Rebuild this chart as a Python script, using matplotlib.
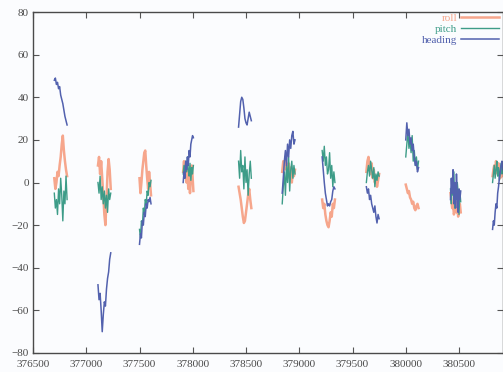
import numpy as np
import matplotlib
matplotlib.use("Agg")
import matplotlib.pyplot as plt

# start time and sample step of each pass
pass_start = [376700, 377110, 377500, 377910, 378430, 378840, 379215, 379630, 380000, 380420, 380815]
pass_dt = [10, 10, 9, 8, 10, 10, 10, 10, 10, 8, 8]

roll = [
    [2, -3, 0, 5, 3, 8, 12, 18, 22, 15, 10, 6, 3],
    [8, 12, 4, 10, 2, -6, -15, -20, -8, 5, 11, 6, -3],
    [2, -5, 0, 6, 10, 14, 15, 8, 2, -3, 5, 0, -6],
    [5, 10, 3, 8, 0, 6, -3, 4, -5, 2, 8, 3, -4],
    [-2, -5, -8, -12, -16, -19, -18, -14, -10, -6, -3, -8, -12],
    [5, 10, 6, 12, 8, 4, 9, 2, 7, 0, 5, 3, 6],
    [-8, -12, -10, -15, -18, -20, -21, -18, -14, -16, -10, -12, -8],
    [5, 10, 12, 8, 4, 9, 2, 6, 0, 3, -2, 1, 4],
    [-1, -3, -5, -4, -7, -8, -10, -9, -12, -13, -11, -10, -12],
    [-5, -8, -12, -10, -15, -13, -9, -14, -11, -16, -12, -10, -14],
    [3, 6, 8, 5, 10, 7, 4, 9, 6, 2, 5, 8, 3],
]
pitch = [
    [-5, -12, -8, -15, -3, -10, 2, -6, -18, -4, -10, 3, -8],
    [0, -5, 3, -8, -2, -10, -4, -12, -6, -14, -3, -8, -5],
    [-22, -26, -18, -20, -12, -15, -8, -10, -4, -6, 0, -2, 1],
    [4, 8, 2, 10, 5, 12, 6, 3, 9, 1, 7, 4, 8],
    [10, 2, 15, 5, 8, -3, 12, 0, 6, -6, 4, 10, 2],
    [-10, -2, 5, -6, 8, 0, 12, -4, 6, 10, 2, 8, 4],
    [15, 10, 17, 8, 12, 4, 6, 14, 2, 8, -2, 5, 0],
    [0, 5, 8, 3, 10, 6, 2, 7, -2, 4, 1, 5, 3],
    [12, 18, 24, 16, 20, 14, 22, 10, 15, 8, 12, 6, 10],
    [-3, -10, 2, -6, 5, -12, -2, -8, 0, -5, -15, -4, -9],
    [0, 4, 8, 2, 6, 10, 3, 7, 1, 5, 9, 4, 6],
]
heading = [
    [48, 49, 46, 47, 44, 45, 41, 39, 37, 34, 31, 29, 27],
    [-48, -55, -52, -60, -70, -62, -56, -58, -50, -45, -42, -36, -33],
    [-29, -24, -26, -18, -20, -14, -16, -10, -12, -8, -9, -7, -10],
    [0, 5, 2, 10, 6, 12, 8, 15, 12, 18, 20, 22, 21],
    [26, 32, 38, 40, 39, 35, 30, 28, 27, 30, 33, 31, 29],
    [-5, 2, 10, 15, 8, 18, 12, 20, 16, 22, 24, 18, 20],
    [12, 6, 0, -5, -8, -11, -10, -11, -9, -8, -4, -2, -3],
    [-2, -5, -3, -8, -6, -10, -12, -14, -11, -16, -19, -15, -17],
    [20, 28, 22, 25, 18, 21, 15, 18, 12, 8, 10, 5, 7],
    [-8, 2, -5, 6, -10, 0, -12, 4, -6, -14, -3, -8, -4],
    [-22, -18, -20, -14, -10, -12, -5, -2, 2, 5, 8, 10, 6],
]

x_ticks = [376500, 377000, 377500, 378000, 378500, 379000, 379500, 380000, 380500]
y_ticks = [-80, -60, -40, -20, 0, 20, 40, 60, 80]

colors = {"roll": "#f6a68c", "pitch": "#3d9c88", "heading": "#5261ae"}
widths = {"roll": 1.8, "pitch": 1.0, "heading": 1.1}
series = [("roll", roll), ("pitch", pitch), ("heading", heading)]

fig = plt.figure(figsize=(5.03, 3.72), dpi=100, facecolor="#fbfcfe")
ax = fig.add_axes([33 / 503, 1 - 353 / 372, 470 / 503, 341 / 372])
ax.set_facecolor("#fbfcfe")

for name, data in series:
    for k, vals in enumerate(data):
        t = pass_start[k] + pass_dt[k] * np.arange(len(vals))
        ax.plot(t, vals, color=colors[name], lw=widths[name],
                label=name if k == 0 else None)

ax.set_xlim(376500, 380913)
ax.set_ylim(-80, 80)
ax.set_xticks(x_ticks)
ax.set_yticks(y_ticks)
ax.tick_params(direction="in", length=4, width=0.8, color="#555555",
               top=True, right=True, labelsize=8, labelcolor="#4a4a4a")
ax.tick_params(axis="x", pad=5)
ax.tick_params(axis="y", pad=3)
for lab in ax.get_xticklabels() + ax.get_yticklabels():
    lab.set_fontfamily("Liberation Serif")
for sp in ax.spines.values():
    sp.set_color("#4a4a4a")
    sp.set_linewidth(1.0)

leg = ax.legend(loc="upper right", bbox_to_anchor=(1.0, 1.01), frameon=False,
                markerfirst=False, handlelength=3.4, labelspacing=0.12,
                borderaxespad=0.0, handletextpad=0.3,
                prop={"family": "Liberation Serif", "size": 8})
for txt, (name, _) in zip(leg.get_texts(), series):
    txt.set_color(colors[name])

fig.savefig("out.png", dpi=100, facecolor=fig.get_facecolor())
